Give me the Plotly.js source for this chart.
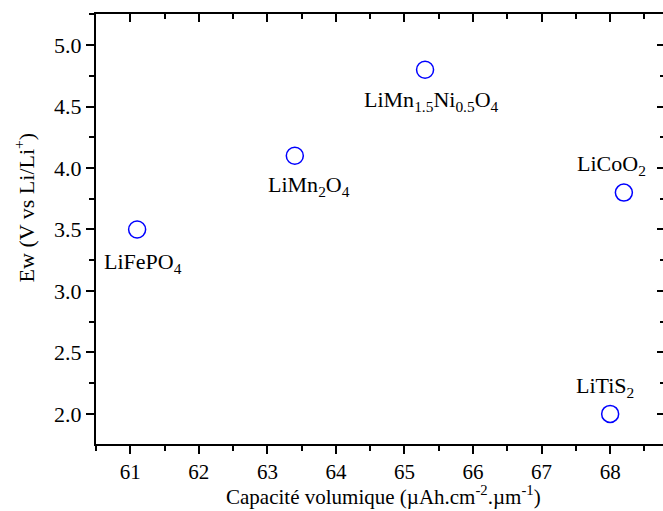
<!DOCTYPE html>
<html>
<head>
<meta charset="utf-8">
<script src="https://cdn.plot.ly/plotly-3.0.1.min.js"></script>
<style>html,body{margin:0;padding:0;overflow:hidden;background:#fff;}</style>
</head>
<body>
<div id="chart"></div>
<script>
// Data
const materials = ["LiFePO<sub>4</sub>", "LiMn<sub>2</sub>O<sub>4</sub>", "LiMn<sub>1.5</sub>Ni<sub>0.5</sub>O<sub>4</sub>", "LiCoO<sub>2</sub>", "LiTiS<sub>2</sub>"];
const capacity = [61.1, 63.4, 65.3, 68.2, 68.0];
const voltage = [3.5, 4.1, 4.8, 3.8, 2.0];
const xTitle = "Capacité volumique (µAh.cm<sup>-2</sup>.µm<sup>-1</sup>)";
const yTitle = "Ew (V vs Li/Li<sup>+</sup>)";

// label offsets (pixels) relative to each point
const labelDx = [6, 14, 6, -12, -5];
const labelDy = [-34, -30, -31, 28, 27];

const font = "Liberation Serif, Times New Roman, serif";

const trace = {
  x: capacity, y: voltage, mode: "markers", type: "scatter",
  marker: {symbol: "circle-open", size: 17, color: "#0000ff", line: {width: 1.5, color: "#0000ff"}},
  hoverinfo: "skip", xaxis: "x", yaxis: "y"
};
const ghost = {x: [], y: [], xaxis: "x2", yaxis: "y2", type: "scatter", showlegend: false};

const annotations = materials.map((m, i) => ({
  x: capacity[i], y: voltage[i], xref: "x", yref: "y", text: m, showarrow: false,
  xshift: labelDx[i], yshift: labelDy[i], xanchor: "center", yanchor: "middle",
  font: {family: font, size: 22, color: "#000"}
}));
annotations.push({
  xref: "paper", yref: "paper", x: -0.125, y: 0.55, text: yTitle, textangle: -90,
  showarrow: false, xanchor: "center", yanchor: "middle",
  font: {family: font, size: 22, color: "#000"}
});
annotations.push({
  xref: "paper", yref: "paper", x: 0.506, y: -0.119, text: xTitle,
  showarrow: false, xanchor: "center", yanchor: "middle",
  font: {family: font, size: 21, color: "#000"}
});

const xr = [60.5, 68.8], yr = [1.755, 5.253];
const common = {showgrid: false, zeroline: false, showline: true, linecolor: "#000", linewidth: 2,
  tickcolor: "#000", tickwidth: 2, ticklen: 8};

const layout = {
  width: 668, height: 511,
  margin: {l: 96, r: 3, t: 14, b: 67},
  paper_bgcolor: "#fff", plot_bgcolor: "#fff",
  showlegend: false,
  font: {family: font, size: 22, color: "#000"},
  xaxis: Object.assign({}, common, {range: xr, dtick: 1, tick0: 61, ticks: "outside",
    minor: {dtick: 0.5, tick0: 60.5, ticks: "outside", ticklen: 5, tickwidth: 2, tickcolor: "#000"},
    tickfont: {family: font, size: 21, color: "#000"}}),
  yaxis: Object.assign({}, common, {range: yr, dtick: 0.5, tick0: 2, ticks: "outside", tickformat: ".1f",
    minor: {dtick: 0.25, tick0: 2, ticks: "outside", ticklen: 5, tickwidth: 2, tickcolor: "#000"},
    tickfont: {family: font, size: 22, color: "#000"}}),
  xaxis2: Object.assign({}, common, {range: xr, dtick: 1, tick0: 61, ticks: "inside", side: "top", overlaying: "x",
    showticklabels: false, anchor: "y2",
    minor: {dtick: 0.5, tick0: 60.5, ticks: "inside", ticklen: 5, tickwidth: 2, tickcolor: "#000"}}),
  yaxis2: Object.assign({}, common, {range: yr, dtick: 0.5, tick0: 2, ticks: "inside", side: "right", overlaying: "y",
    showticklabels: false, anchor: "x2",
    minor: {dtick: 0.25, tick0: 2, ticks: "inside", ticklen: 5, tickwidth: 2, tickcolor: "#000"}}),
  annotations: annotations
};

Plotly.newPlot("chart", [trace, ghost], layout, {displayModeBar: false, staticPlot: true});
</script>
</body>
</html>
